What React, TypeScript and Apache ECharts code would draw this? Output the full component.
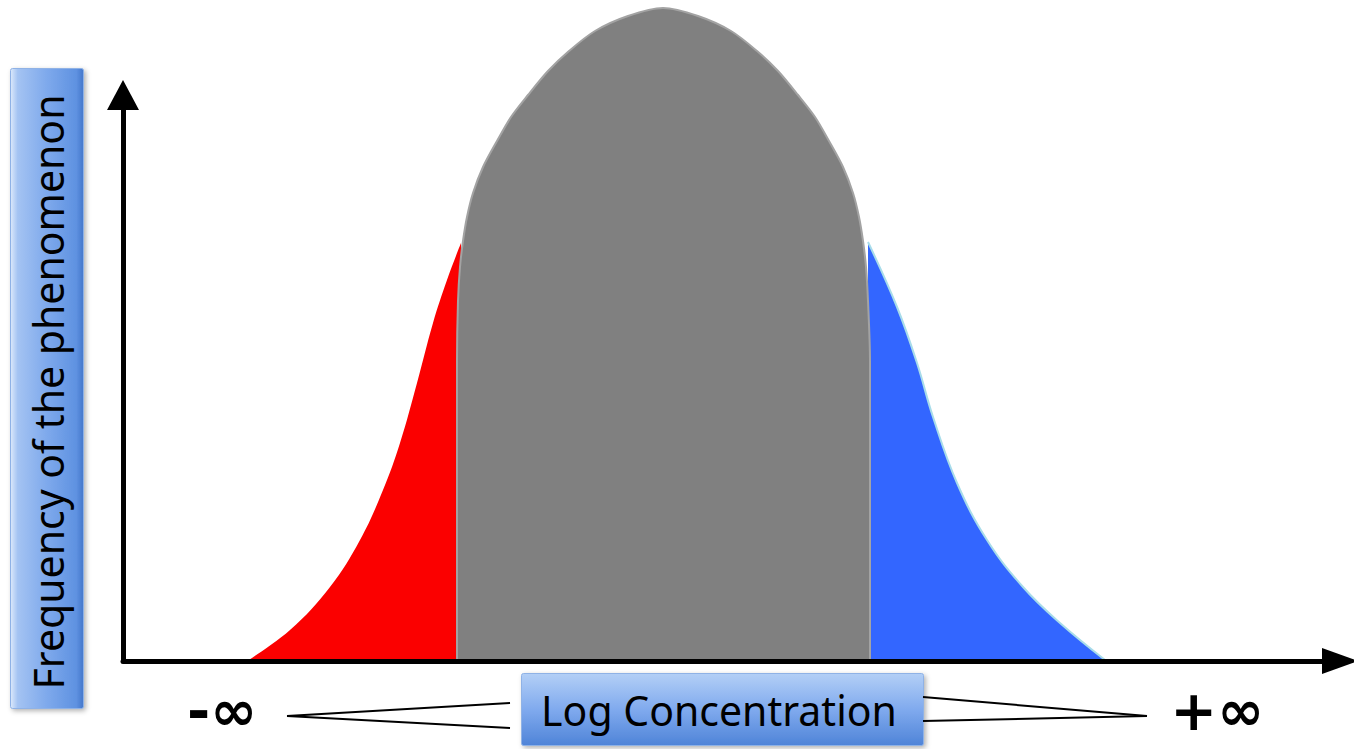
import React, { useEffect, useRef } from "react";
import * as echarts from "echarts";

// Log concentration (x) and frequency (y), arbitrary units
const redX = [-4.16, -3.73, -3.33, -3.03, -2.8, -2.63, -2.46, -2.3, -2.16, -2.02];
const redY = [0, 0.31, 0.74, 1.21, 1.71, 2.18, 2.78, 3.38, 3.81, 4.18];

const grayX = [
  -2.06, -2.06, -2.06, -2.05, -2.03, -2.0, -1.96, -1.9, -1.8, -1.66, -1.52, -1.35, -1.15, -0.94, -0.68, -0.35, 0,
  0.35, 0.68, 0.94, 1.15, 1.35, 1.52, 1.66, 1.8, 1.9, 1.96, 2.0, 2.03, 2.05, 2.07, 2.07, 2.07,
];
const grayY = [
  0, 1.5, 3.0, 3.6, 3.94, 4.2, 4.44, 4.68, 4.94, 5.2, 5.44, 5.66, 5.9, 6.1, 6.3, 6.45, 6.53,
  6.45, 6.3, 6.1, 5.9, 5.66, 5.44, 5.2, 4.94, 4.68, 4.44, 4.2, 3.94, 3.6, 3.0, 1.5, 0,
];

const blueX = [2.05, 2.34, 2.54, 2.7, 2.94, 3.24, 3.6, 3.97, 4.42];
const blueY = [4.19, 3.54, 2.98, 2.44, 1.78, 1.21, 0.74, 0.38, 0.01];

const yTitle = "Frequency of the phenomenon";
const xTitle = "Log Concentration";
const leftEnd = "-∞";
const rightEnd = "+∞";

const zip = (xs: number[], ys: number[]) => xs.map((x, i) => [x, ys[i]]);

const FONT = '"Comic Sans MS", "Noto Sans", "DejaVu Sans", sans-serif';

export default function App() {
  const ref = useRef<HTMLDivElement>(null);
  useEffect(() => {
    if (!ref.current) return;
    const chart = echarts.init(ref.current, null, { renderer: "svg" });
    chart.setOption({
      animation: false,
      backgroundColor: "#ffffff",
      grid: { left: 123, top: 95, right: 14, bottom: 88 },
      xAxis: {
        type: "value",
        min: -5.4,
        max: 6.77,
        z: 5,
        axisLine: {
          show: true,
          onZero: false,
          symbol: ["none", "triangle"],
          symbolSize: [26, 36],
          lineStyle: { color: "#000", width: 5 },
        },
        axisTick: { show: false },
        axisLabel: { show: false },
        splitLine: { show: false },
      },
      yAxis: {
        type: "value",
        min: 0,
        max: 5.66,
        z: 5,
        axisLine: {
          show: true,
          onZero: false,
          symbol: ["none", "triangle"],
          symbolSize: [32, 30],
          lineStyle: { color: "#000", width: 5 },
        },
        axisTick: { show: false },
        axisLabel: { show: false },
        splitLine: { show: false },
      },
      series: [
        {
          type: "line",
          data: zip(redX, redY),
          smooth: 0.4,
          showSymbol: false,
          clip: false,
          z: 2,
          lineStyle: { width: 0, color: "#fb0000" },
          areaStyle: { color: "#fb0000", opacity: 1 },
        },
        {
          type: "line",
          data: zip(blueX, blueY),
          smooth: 0.4,
          showSymbol: false,
          clip: false,
          z: 2,
          lineStyle: { width: 2, color: "#a8dcea" },
          areaStyle: { color: "#3366ff", opacity: 1 },
        },
        {
          type: "line",
          data: zip(grayX, grayY),
          smooth: 0.3,
          showSymbol: false,
          clip: false,
          z: 3,
          lineStyle: { width: 2, color: "#a3a3a3" },
          areaStyle: { color: "#808080", opacity: 1 },
        },
      ],
      graphic: [
        {
          type: "rect",
          left: 10,
          top: 68,
          shape: { width: 73, height: 640, r: 2 },
          style: {
            fill: {
              type: "linear", x: 0, y: 0, x2: 1, y2: 0,
              colorStops: [
                { offset: 0, color: "#dce9fb" },
                { offset: 0.1, color: "#a4c3f2" },
                { offset: 0.5, color: "#7ea9ec" },
                { offset: 0.9, color: "#5f92e1" },
                { offset: 1, color: "#4577cb" },
              ],
            },
            stroke: "#8fb2e6",
            lineWidth: 1,
            shadowColor: "rgba(0,0,0,0.3)",
            shadowBlur: 5,
            shadowOffsetX: 2,
            shadowOffsetY: 2,
          },
          z: 10,
        },
        {
          type: "text",
          x: 48,
          y: 392,
          rotation: Math.PI / 2,
          style: {
            text: yTitle,
            font: `41px ${FONT}`,
            fill: "#000",
            align: "center",
            verticalAlign: "middle",
          },
          z: 11,
        },
        {
          type: "rect",
          left: 521,
          top: 673,
          shape: { width: 402, height: 72, r: 2 },
          style: {
            fill: {
              type: "linear", x: 0, y: 0, x2: 0, y2: 1,
              colorStops: [
                { offset: 0, color: "#b3cff6" },
                { offset: 0.5, color: "#80aaee" },
                { offset: 1, color: "#4f84d8" },
              ],
            },
            stroke: "#8fb2e6",
            lineWidth: 1,
            shadowColor: "rgba(0,0,0,0.3)",
            shadowBlur: 5,
            shadowOffsetX: 2,
            shadowOffsetY: 2,
          },
          z: 10,
        },
        {
          type: "text",
          x: 719,
          y: 710,
          style: {
            text: xTitle,
            font: `41px ${FONT}`,
            fill: "#000",
            align: "center",
            verticalAlign: "middle",
          },
          z: 11,
        },
        {
          type: "text",
          x: 222,
          y: 710,
          style: { text: leftEnd, font: 'bold 56px "DejaVu Sans", sans-serif', fill: "#000", align: "center", verticalAlign: "middle" },
          z: 11,
        },
        {
          type: "text",
          x: 1217,
          y: 710,
          style: { text: rightEnd, font: 'bold 56px "DejaVu Sans", sans-serif', fill: "#000", align: "center", verticalAlign: "middle" },
          z: 11,
        },
        { type: "line", shape: { x1: 287, y1: 716, x2: 510, y2: 703 }, style: { stroke: "#000", lineWidth: 2 }, z: 11 },
        { type: "line", shape: { x1: 287, y1: 716, x2: 510, y2: 728 }, style: { stroke: "#000", lineWidth: 2 }, z: 11 },
        { type: "line", shape: { x1: 923, y1: 697, x2: 1147, y2: 716 }, style: { stroke: "#000", lineWidth: 2 }, z: 11 },
        { type: "line", shape: { x1: 923, y1: 721, x2: 1147, y2: 716 }, style: { stroke: "#000", lineWidth: 2 }, z: 11 },
      ],
    });
    return () => chart.dispose();
  }, []);
  return (
    <div
      ref={ref}
      style={{ position: "fixed", left: 0, top: 0, width: 1354, height: 749 }}
    />
  );
}
